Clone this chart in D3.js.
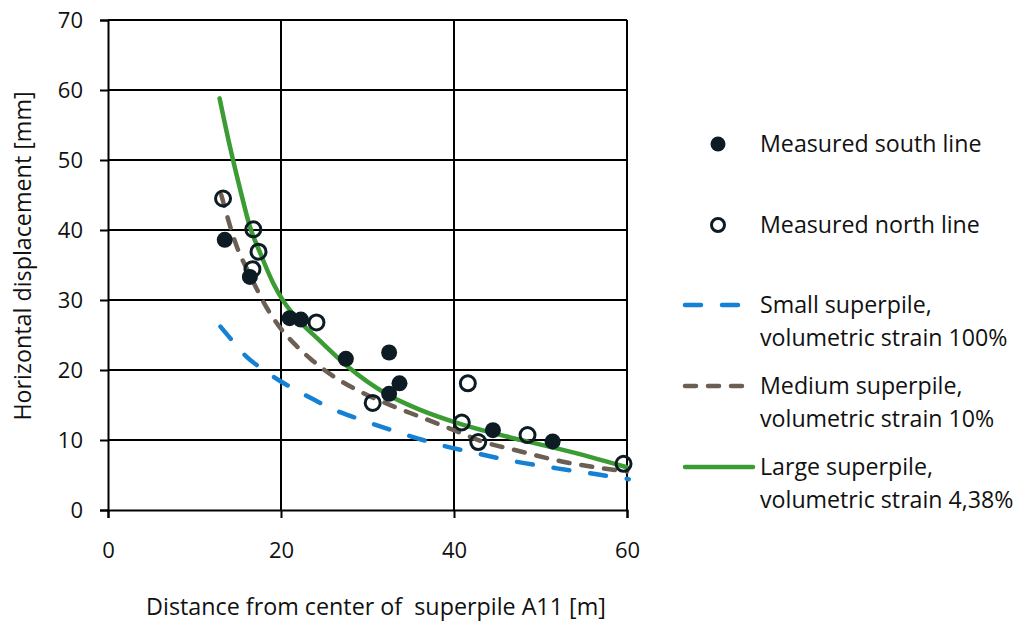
<!DOCTYPE html>
<html>
<head>
<meta charset="utf-8">
<script src="https://cdn.jsdelivr.net/npm/d3@7"></script>
<style>
  body { margin: 0; background: #fff; }
  svg { display: block; font-family: "Open Sans", "Noto Sans", sans-serif; }
</style>
</head>
<body>
<div id="chart"></div>
<script>
// measured points [distance m, displacement mm]
const southLine = [
  [13.5, 38.6], [16.4, 33.3], [21.0, 27.4], [22.3, 27.2], [27.5, 21.6],
  [32.5, 22.5], [32.5, 16.6], [33.7, 18.1], [44.5, 11.4], [51.4, 9.8],
];
const northLine = [
  [13.3, 44.5], [16.8, 40.1], [17.4, 36.9], [16.7, 34.4], [24.1, 26.8],
  [30.6, 15.3], [41.6, 18.1], [40.9, 12.5], [42.8, 9.7], [48.5, 10.7], [59.6, 6.6],
];
// model curves
const smallPile = [
  [13.0, 26.2], [14.5, 24.0], [16.0, 21.9], [17.9, 20.1], [19.8, 18.5], [21.8, 17.1],
  [23.9, 15.7], [26.0, 14.4], [28.8, 13.1], [33.8, 11.0], [38.4, 9.3], [42.6, 8.1],
  [47.2, 6.9], [51.9, 5.95], [56.5, 5.1], [60.2, 4.4],
];
const mediumPile = [
  [13.1, 45.0], [14.9, 37.6], [16.4, 33.6], [18.3, 29.0], [19.8, 26.2], [21.5, 23.8],
  [23.5, 21.5], [25.7, 19.4], [29.5, 16.7], [33.0, 14.8], [36.1, 13.3], [40.0, 11.4],
  [43.0, 9.9], [47.6, 8.4], [52.6, 6.9], [56.9, 6.0], [60.0, 5.5],
];
const largePile = [
  [12.9, 58.8], [14.1, 51.9], [15.3, 45.7], [16.4, 40.5], [17.6, 36.7], [19.1, 32.4],
  [20.3, 29.8], [22.2, 26.9], [24.3, 24.4], [27.6, 20.6], [32.3, 16.5], [36.1, 14.3],
  [40.7, 12.3], [46.1, 10.5], [51.2, 9.0], [55.7, 7.6], [60.0, 6.1],
];
const xTicks = [0, 20, 40, 60];
const yTicks = [0, 10, 20, 30, 40, 50, 60, 70];

const width = 1017;
const height = 623;
const margin = { top: 20, left: 108, right: 390, bottom: 113 };
const plotW = width - margin.left - margin.right;
const plotH = height - margin.top - margin.bottom;

const x = d3.scaleLinear().domain([0, 60]).range([0, plotW]);
const y = d3.scaleLinear().domain([0, 70]).range([plotH, 0]);

const svg = d3.select('#chart').append('svg')
  .attr('width', width)
  .attr('height', height);

const g = svg.append('g')
  .attr('transform', `translate(${margin.left},${margin.top})`);

// grid
g.append('g')
  .selectAll('line')
  .data(yTicks.slice(1))
  .join('line')
  .attr('x1', 0).attr('x2', plotW)
  .attr('y1', (d) => y(d)).attr('y2', (d) => y(d))
  .attr('stroke', '#000').attr('stroke-width', 2);
g.append('g')
  .selectAll('line')
  .data(xTicks.slice(1))
  .join('line')
  .attr('y1', 0).attr('y2', plotH)
  .attr('x1', (d) => x(d)).attr('x2', (d) => x(d))
  .attr('stroke', '#000').attr('stroke-width', 2);

const yAxis = d3.axisLeft(y).tickValues(yTicks).tickSize(8).tickPadding(17);
const xAxis = d3.axisBottom(x).tickValues(xTicks).tickSize(8).tickPadding(24);

const ya = g.append('g').call(yAxis);
const xa = g.append('g').attr('transform', `translate(0,${plotH})`).call(xAxis);
[ya, xa].forEach((a) => {
  a.select('.domain').attr('stroke', '#000').attr('stroke-width', 2);
  a.selectAll('.tick line').attr('stroke', '#000').attr('stroke-width', 2);
  a.selectAll('.tick text')
    .attr('font-size', 22)
    .attr('fill', '#111')
    .attr('font-family', '"Open Sans", "Noto Sans", sans-serif');
});

// curves
const line = d3.line()
  .x((d) => x(d[0]))
  .y((d) => y(d[1]))
  .curve(d3.curveMonotoneX);

const curves = [
  { name: 'small', data: smallPile, color: '#1581d4', dash: '16,21', w: 4.5 },
  { name: 'medium', data: mediumPile, color: '#6b5e53', dash: '11,12', w: 4.5 },
  { name: 'large', data: largePile, color: '#3c9c34', dash: null, w: 4.5 },
];

curves.forEach((c) => {
  g.append('path')
    .datum(c.data)
    .attr('d', line)
    .attr('fill', 'none')
    .attr('stroke', c.color)
    .attr('stroke-width', c.w)
    .attr('stroke-linecap', 'round')
    .attr('stroke-dasharray', c.dash);
});

// markers
const markColor = '#0d1b24';
g.append('g')
  .selectAll('circle')
  .data(southLine)
  .join('circle')
  .attr('cx', (d) => x(d[0]))
  .attr('cy', (d) => y(d[1]))
  .attr('r', 8)
  .attr('fill', markColor);
g.append('g')
  .selectAll('circle')
  .data(northLine)
  .join('circle')
  .attr('cx', (d) => x(d[0]))
  .attr('cy', (d) => y(d[1]))
  .attr('r', 7.5)
  .attr('fill', 'none')
  .attr('stroke', markColor)
  .attr('stroke-width', 3);

// axis titles
svg.append('text')
  .attr('x', 376)
  .attr('y', 607)
  .attr('dy', '0.35em')
  .attr('text-anchor', 'middle')
  .attr('font-size', 23.3)
  .attr('fill', '#111')
  .text('Distance from center of \u00a0superpile A11 [m]');

svg.append('text')
  .attr('transform', 'translate(23,256) rotate(-90)')
  .attr('dy', '0.35em')
  .attr('text-anchor', 'middle')
  .attr('font-size', 23.3)
  .attr('fill', '#111')
  .text('Horizontal displacement [mm]');

// legend
const legend = svg.append('g').attr('transform', 'translate(683,0)');
const legendText = (yy, lines) => {
  legend.append('text')
    .attr('x', 77)
    .attr('y', yy)
    .attr('font-size', 23.2)
    .attr('fill', '#111')
    .selectAll('tspan')
    .data(lines)
    .join('tspan')
    .attr('x', 77)
    .attr('dy', (d, i) => (i === 0 ? '0.35em' : '1.42em'))
    .text((d) => d);
};

legend.append('circle').attr('cx', 35).attr('cy', 144).attr('r', 7.5).attr('fill', markColor);
legendText(144, ['Measured south line']);
legend.append('circle').attr('cx', 35).attr('cy', 225).attr('r', 6.5)
  .attr('fill', 'none').attr('stroke', markColor).attr('stroke-width', 3);
legendText(225, ['Measured north line']);

const legendCurves = [
  { c: curves[0], yy: 305, lines: ['Small superpile,', 'volumetric strain 100%'] },
  { c: curves[1], yy: 386, lines: ['Medium superpile,', 'volumetric strain 10%'] },
  { c: curves[2], yy: 467, lines: ['Large superpile,', 'volumetric strain 4,38%'] },
];
legendCurves.forEach((l) => {
  legend.append('line')
    .attr('x1', 2).attr('x2', 70)
    .attr('y1', l.yy).attr('y2', l.yy)
    .attr('stroke', l.c.color)
    .attr('stroke-width', l.c.w)
    .attr('stroke-linecap', 'round')
    .attr('stroke-dasharray', l.c.dash);
  legendText(l.yy, l.lines);
});
</script>
</body>
</html>
